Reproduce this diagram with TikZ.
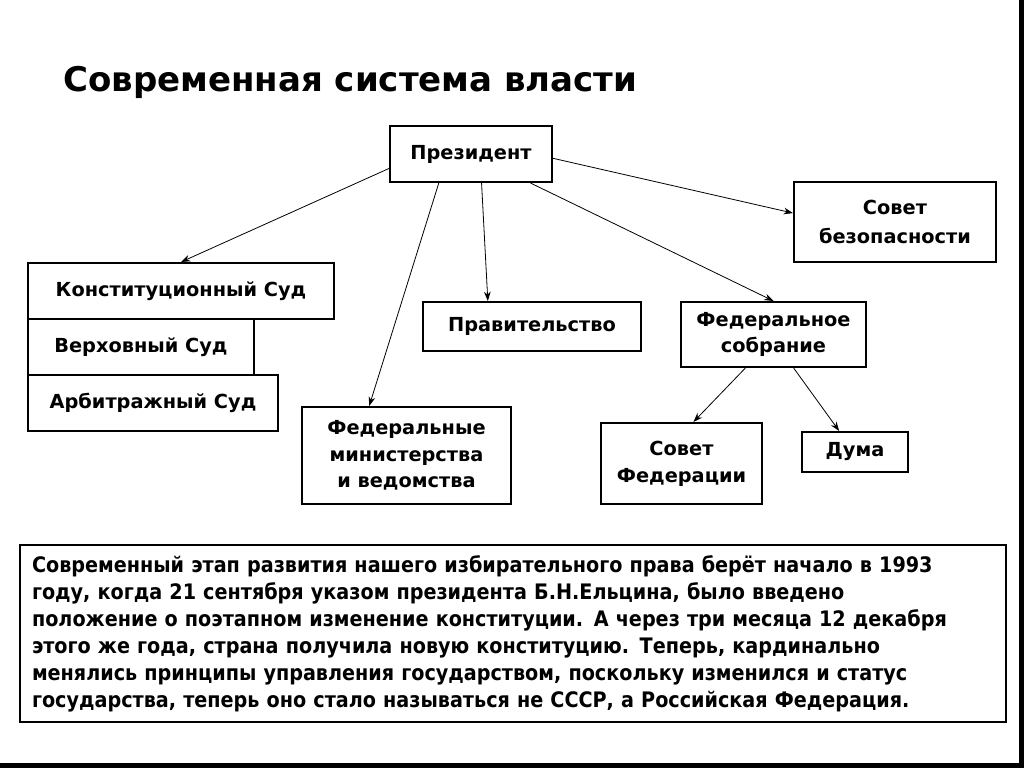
\documentclass[tikz,border=0pt]{standalone}
\usepackage{fontspec}
\setmainfont{DejaVu Sans}
\newfontfamily\parafont{DejaVu Sans Condensed}
\usetikzlibrary{arrows.meta}
\begin{document}
\begin{tikzpicture}[x=0.75pt,y=-0.75pt,
  box/.style={draw=black,line width=1.5pt,fill=white,font=\bfseries\fontsize{14.5}{20}\selectfont,align=center,inner sep=0pt},
  arr/.style={line width=0.6pt,-{Stealth[length=7pt,width=5pt]}}]
\useasboundingbox (0,0) rectangle (1024,768);
\fill[black] (1019,0) rectangle (1024,768);
\fill[black] (0,763) rectangle (1024,768);
\node[anchor=base west,font=\bfseries\fontsize{25.5}{29}\selectfont,inner sep=0pt] (title) at (63,91) {Современная система власти};
\node[box,minimum width=121.5pt,minimum height=42pt] (pres) at (471,154) {Президент};
\node[box,minimum width=151.5pt,minimum height=60pt] (sb) at (895,222) {Совет\\[2pt]безопасности};
\node[box,minimum width=229.5pt,minimum height=42pt] (ks) at (181,291) {Конституционный Суд};
\node[box,minimum width=169.5pt,minimum height=42pt] (vs) at (141,347) {Верховный Суд};
\node[box,minimum width=187.5pt,minimum height=42pt] (as) at (153,403) {Арбитражный Суд};
\node[box,minimum width=163.5pt,minimum height=36.75pt] (prav) at (532,326.5) {Правительство};
\node[box,minimum width=138.75pt,minimum height=48.75pt] (fs) at (773.5,334.5) {Федеральное\\собрание};
\node[box,minimum width=156.75pt,minimum height=72.75pt] (fm) at (406.5,455.5) {Федеральные\\министерства\\и ведомства};
\node[box,minimum width=120.75pt,minimum height=60.75pt] (sf) at (681.5,463.5) {Совет\\Федерации};
\node[box,minimum width=79.5pt,minimum height=30pt] (duma) at (855,452) {Дума};
\node[draw=black,line width=2.2pt,minimum width=739.5pt,minimum height=132.75pt,text width=721.5pt,inner xsep=9pt,align=left,
  font=\parafont\bfseries\fontsize{16}{20.25}\selectfont] (para) at (513,633.5)
 {Современный этап развития нашего избирательного права берёт начало в 1993\\
 году, когда 21 сентября указом президента Б.Н.Ельцина, было введено\\
 положение о поэтапном изменение конституции. А через три месяца 12 декабря\\
 этого же года, страна получила новую конституцию. Теперь, кардинально\\
 менялись принципы управления государством, поскольку изменился и статус\\
 государства, теперь оно стало называться не СССР, а Российская Федерация.};
\draw[arr] (pres.190) -- (ks.north);
\draw[arr] (pres.222) -- (fm.127);
\draw[arr] (pres.290) -- (prav.150);
\draw[arr] (pres.334) -- (fs.north);
\draw[arr] (pres.357) -- (sb.175);
\draw[arr] (fs.230) -- (sf.74);
\draw[arr] (fs.301) -- (duma.127);
\end{tikzpicture}
\end{document}
